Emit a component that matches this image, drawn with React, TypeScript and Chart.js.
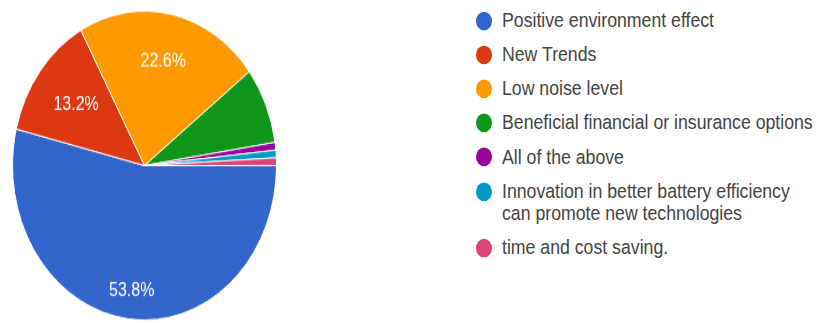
import React, { useEffect, useRef } from "react";
import { Chart, registerables } from "chart.js";

Chart.register(...registerables);

const labels: (string | string[])[] = [
  "Positive environment effect",
  "New Trends",
  "Low noise level",
  "Beneficial financial or insurance options",
  "All of the above",
  ["Innovation in better battery efficiency", "can promote new technologies"],
  "time and cost saving.",
];
const values = [53.8, 13.2, 22.6, 8.0, 0.8, 0.8, 0.8];
const colors = ["#3366cc", "#dc3912", "#ff9900", "#109618", "#990099", "#0099c6", "#dd4477"];

const STRETCH = 1.17;

const pctLabelPlugin = {
  id: "pctLabels",
  afterDatasetsDraw(chart: any) {
    const ctx = chart.ctx;
    const meta = chart.getDatasetMeta(0);
    const data = chart.data.datasets[0].data as number[];
    const total = data.reduce((a, b) => a + b, 0);
    ctx.save();
    ctx.fillStyle = "#ffffff";
    ctx.font = '16px "Liberation Sans", Arial, sans-serif';
    ctx.textAlign = "center";
    ctx.textBaseline = "middle";
    meta.data.forEach((arc: any, i: number) => {
      const frac = data[i] / total;
      if (frac < 0.1) return;
      const p = arc.getProps(["x", "y", "startAngle", "endAngle", "outerRadius"], true);
      const mid = (p.startAngle + p.endAngle) / 2;
      const r = p.outerRadius * (0.6 + 0.4 * frac);
      ctx.fillText((frac * 100).toFixed(1) + "%", p.x + Math.cos(mid) * r, p.y + Math.sin(mid) * r);
    });
    ctx.restore();
  },
};

export default function App() {
  const ref = useRef<HTMLCanvasElement | null>(null);
  useEffect(() => {
    if (!ref.current) return;
    const chart = new Chart(ref.current, {
      type: "pie",
      data: {
        labels: labels as any,
        datasets: [
          {
            data: values,
            backgroundColor: colors,
            borderColor: "#ffffff",
            borderWidth: 1,
          },
        ],
      },
      options: {
        animation: false,
        responsive: true,
        maintainAspectRatio: false,
        rotation: 90,
        layout: { padding: 0 },
        plugins: {
          legend: { display: false },
          tooltip: { enabled: false },
        },
      },
      plugins: [pctLabelPlugin],
    });
    return () => chart.destroy();
  }, []);

  return (
    <div
      style={{
        position: "absolute",
        left: 0,
        top: 0,
        width: 819,
        height: 276,
        background: "#ffffff",
        transform: `scaleY(${STRETCH})`,
        transformOrigin: "top left",
        fontFamily: '"Liberation Sans", Arial, sans-serif',
      }}
    >
      <div style={{ position: "absolute", left: 12, top: 8.5, width: 265, height: 265 }}>
        <canvas ref={ref} />
      </div>
      <div style={{ position: "absolute", left: 476, top: 8.2 }}>
        {labels.map((lab, i) => {
          const lines = Array.isArray(lab) ? lab : [lab];
          return (
            <div key={i} style={{ display: "flex", alignItems: "flex-start", marginBottom: 9.4 }}>
              <div
                style={{
                  width: 16,
                  height: 16,
                  borderRadius: "50%",
                  background: colors[i],
                  marginTop: 1.85,
                  marginRight: 10,
                  flex: "none",
                }}
              />
              <div style={{ fontSize: 17.7, lineHeight: "19.7px", color: "#444444", whiteSpace: "nowrap" }}>
                {lines.map((l, j) => (
                  <div key={j}>{l}</div>
                ))}
              </div>
            </div>
          );
        })}
      </div>
    </div>
  );
}
